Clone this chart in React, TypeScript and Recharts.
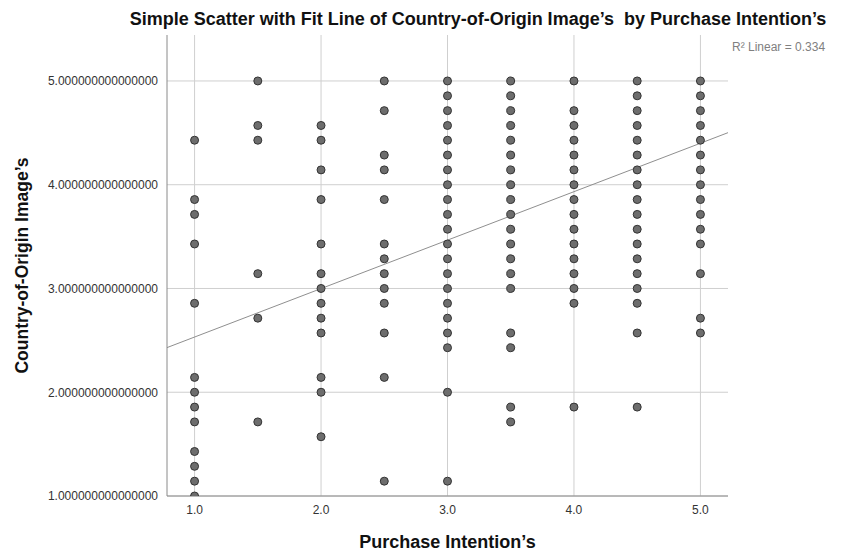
import React from 'react';
import {
  ScatterChart, Scatter, XAxis, YAxis, ReferenceLine, Label,
} from 'recharts';

// Purchase Intention's (x) columns and Country-of-Origin Image's (y) values per column
const piLevels = [1.0, 1.5, 2.0, 2.5, 3.0, 3.5, 4.0, 4.5, 5.0];

const coiAt10 = [4.429, 3.857, 3.714, 3.429, 2.857, 2.143, 2.0, 1.857, 1.714, 1.429, 1.286, 1.143, 1.0];
const coiAt15 = [5.0, 4.571, 4.429, 3.143, 2.714, 1.714];
const coiAt20 = [4.571, 4.429, 4.143, 3.857, 3.429, 3.143, 3.0, 2.857, 2.714, 2.571, 2.143, 2.0, 1.571];
const coiAt25 = [5.0, 4.714, 4.286, 4.143, 3.857, 3.429, 3.286, 3.143, 3.0, 2.857, 2.571, 2.143, 1.143];
const coiAt30 = [5.0, 4.857, 4.714, 4.571, 4.429, 4.286, 4.143, 4.0, 3.857, 3.714, 3.571, 3.429, 3.286, 3.143, 3.0, 2.857, 2.714, 2.571, 2.429, 2.0, 1.143];
const coiAt35 = [5.0, 4.857, 4.714, 4.571, 4.429, 4.286, 4.143, 4.0, 3.857, 3.714, 3.571, 3.429, 3.286, 3.143, 3.0, 2.571, 2.429, 1.857, 1.714];
const coiAt40 = [5.0, 4.714, 4.571, 4.429, 4.286, 4.143, 4.0, 3.857, 3.714, 3.571, 3.429, 3.286, 3.143, 3.0, 2.857, 1.857];
const coiAt45 = [5.0, 4.857, 4.714, 4.571, 4.429, 4.286, 4.143, 4.0, 3.857, 3.714, 3.571, 3.429, 3.286, 3.143, 3.0, 2.857, 2.571, 1.857];
const coiAt50 = [5.0, 4.857, 4.714, 4.571, 4.429, 4.286, 4.143, 4.0, 3.857, 3.714, 3.571, 3.429, 3.143, 2.714, 2.571];

const coiColumns = [coiAt10, coiAt15, coiAt20, coiAt25, coiAt30, coiAt35, coiAt40, coiAt45, coiAt50];

const xTicks = [1, 2, 3, 4, 5];
const yTicks = [1, 2, 3, 4, 5];

// linear fit, R² = 0.334
const fitIntercept = 2.065;
const fitSlope = 0.467;
const rSquared = '0.334';

const xDomain: [number, number] = [0.782, 5.218];
const yDomain: [number, number] = [1, 5.443];

const FONT = '"Liberation Sans", Arial, Helvetica, sans-serif';
const GRID = '#cfcfcf';

const points = piLevels.flatMap((pi, i) => coiColumns[i].map((coi) => ({ pi, coi })));

const fitSegment = [
  { x: xDomain[0], y: fitIntercept + fitSlope * xDomain[0] },
  { x: xDomain[1], y: fitIntercept + fitSlope * xDomain[1] },
];

const YTitle = (props: any) => {
  const vb = props.viewBox;
  const cx = vb.x + 22;
  const cy = vb.y + vb.height / 2;
  return (
    <text
      x={cx}
      y={cy}
      transform={`rotate(-90 ${cx} ${cy})`}
      textAnchor="middle"
      dominantBaseline="central"
      style={{ fontFamily: FONT, fontSize: 17.5, fontWeight: 'bold' }}
      fill="#111"
    >
      Country-of-Origin Image’s
    </text>
  );
};

const XTitle = (props: any) => {
  const vb = props.viewBox;
  return (
    <text
      x={vb.x + vb.width / 2}
      y={vb.y + 46}
      textAnchor="middle"
      dominantBaseline="central"
      style={{ fontFamily: FONT, fontSize: 18, fontWeight: 'bold' }}
      fill="#111"
    >
      Purchase Intention’s
    </text>
  );
};

const tickStyle = { fontFamily: FONT, fontSize: 12, fill: '#333' };

export default function App() {
  return (
    <div style={{ position: 'absolute', left: 0, top: 0, width: 842, height: 555, background: '#fff', fontFamily: FONT }}>
      <div
        style={{
          position: 'absolute', left: 478, top: 9, transform: 'translateX(-50%)',
          whiteSpace: 'pre', fontSize: 18, fontWeight: 'bold', color: '#111',
        }}
      >
        {'Simple Scatter with Fit Line of Country-of-Origin Image’s  by Purchase Intention’s'}
      </div>
      <div
        style={{
          position: 'absolute', left: 732, top: 40, whiteSpace: 'pre',
          fontSize: 12, color: '#808080',
        }}
      >
        {`R² Linear = ${rSquared}`}
      </div>
      <ScatterChart
        width={842}
        height={555}
        margin={{ top: 35, right: 114, bottom: 0, left: 0 }}
        style={{ fontFamily: FONT }}
      >
        <XAxis
          type="number"
          dataKey="pi"
          domain={xDomain}
          ticks={xTicks}
          allowDataOverflow
          height={59}
          tickLine={false}
          tickSize={0}
          tickMargin={9}
          axisLine={{ stroke: '#8a8a8a' }}
          tick={{ ...tickStyle, style: tickStyle }}
          tickFormatter={(v: number) => v.toFixed(1)}
        >
          <Label content={XTitle} />
        </XAxis>
        <YAxis
          type="number"
          dataKey="coi"
          domain={yDomain}
          ticks={yTicks}
          allowDataOverflow
          width={167}
          tickLine={false}
          tickSize={0}
          tickMargin={9}
          axisLine={{ stroke: '#8a8a8a' }}
          tick={{ ...tickStyle, style: tickStyle }}
          tickFormatter={(v: number) => v.toFixed(15)}
        >
          <Label content={YTitle} />
        </YAxis>
        {/* grid only at the tick values, the plot has no top / right frame */}
        {yTicks.map((v) => (
          <ReferenceLine key={`gy${v}`} y={v} stroke={GRID} strokeWidth={1} />
        ))}
        {xTicks.map((v) => (
          <ReferenceLine key={`gx${v}`} x={v} stroke={GRID} strokeWidth={1} />
        ))}
        <ReferenceLine segment={fitSegment} stroke="#8f8f8f" strokeWidth={1} ifOverflow="hidden" />
        <Scatter
          data={points}
          isAnimationActive={false}
          shape={(p: any) => (
            <circle cx={p.cx} cy={p.cy} r={4} fill="#6d6d6d" stroke="#333" strokeWidth={1} />
          )}
        />
      </ScatterChart>
    </div>
  );
}
